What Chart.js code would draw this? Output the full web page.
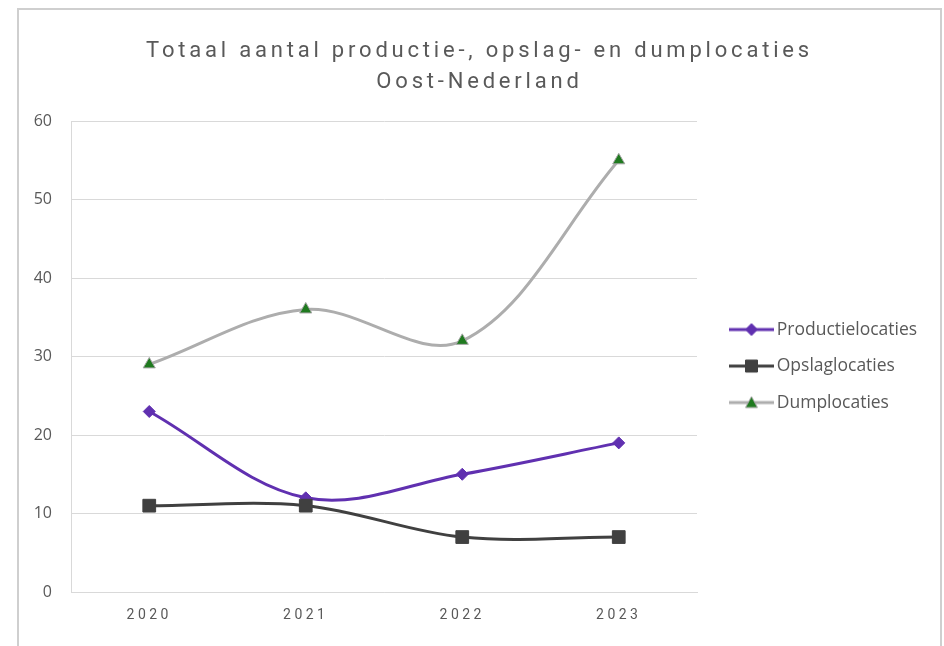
<!DOCTYPE html>
<html>
<head>
<meta charset="utf-8">
<script src="https://cdn.jsdelivr.net/npm/chart.js"></script>
<style>
  body { margin: 0; background: #fff; }
  #kader { position: absolute; left: 17px; top: 8px; width: 921px; height: 700px; border: 2px solid #cfcfcf; }
  #vak { position: relative; width: 921px; height: 636px; }
</style>
</head>
<body>
<div id="kader"><div id="vak"><canvas id="myChart"></canvas></div></div>
<script>
const jaren = ['2020', '2021', '2022', '2023'];
const productielocaties = [23, 12, 15, 19];
const opslaglocaties = [11, 11, 7, 7];
const dumplocaties = [29, 36, 32, 55];
const yTicks = [0, 10, 20, 30, 40, 50, 60];

const paars = '#6030b0';
const donker = '#404040';
const grijs = '#adadad';
const groen = '#1f7a1f';
const tekst = '#595959';

// small legend icons: line with the marker in the middle
function icoon(kleur, vorm, vulling, rand) {
  const c = document.createElement('canvas');
  c.width = 45;
  c.height = 16;
  const g = c.getContext('2d');
  g.strokeStyle = kleur;
  g.lineWidth = 3;
  g.beginPath();
  g.moveTo(0, 8);
  g.lineTo(45, 8);
  g.stroke();
  g.fillStyle = vulling;
  g.strokeStyle = rand;
  g.lineWidth = 1;
  g.beginPath();
  if (vorm === 'ruit') {
    g.moveTo(22.5, 2); g.lineTo(28.5, 8); g.lineTo(22.5, 14); g.lineTo(16.5, 8);
  } else if (vorm === 'vierkant') {
    g.rect(16.5, 2, 12, 12);
  } else {
    g.moveTo(22.5, 2); g.lineTo(28.5, 13); g.lineTo(16.5, 13);
  }
  g.closePath();
  g.fill();
  g.stroke();
  return c;
}
const iconen = [
  icoon(paars, 'ruit', paars, paars),
  icoon(donker, 'vierkant', donker, donker),
  icoon(grijs, 'driehoek', groen, '#a6a6a6')
];

function spatie(box, naam, sp) {
  if (!box || box['_sp_' + naam]) return;
  const orig = box[naam].bind(box);
  box[naam] = function (a) {
    const c = this.ctx;
    c.save();
    c.letterSpacing = sp;
    orig(a);
    c.restore();
  };
  box['_sp_' + naam] = true;
}

const opmaak = {
  id: 'opmaak',
  beforeLayout(chart) {
    spatie(chart.titleBlock, 'draw', '3.8px');
    spatie(chart.scales.x, 'drawLabels', '3.5px');
    const lg = chart.legend;
    if (lg && !lg._aangepast) {
      const fit = lg.fit.bind(lg);
      lg.fit = function () { fit(); this.width = 243; };
      const draw = lg.draw.bind(lg);
      lg.draw = function () {
        const l = this.left, t = this.top;
        this.left += 19;
        this.top += 19;
        draw();
        this.left = l;
        this.top = t;
      };
      lg._aangepast = true;
    }
  }
};

const ctx = document.getElementById('myChart');

new Chart(ctx, {
  type: 'line',
  data: {
    labels: jaren,
    datasets: [{
      label: 'Productielocaties',
      data: productielocaties,
      borderColor: paars,
      backgroundColor: paars,
      pointBackgroundColor: paars,
      pointBorderColor: paars,
      pointStyle: 'rectRot',
      pointRadius: 6,
      pointBorderWidth: 1,
      borderWidth: 3,
      tension: 0.35,
      order: 2
    }, {
      label: 'Opslaglocaties',
      data: opslaglocaties,
      borderColor: donker,
      backgroundColor: donker,
      pointBackgroundColor: donker,
      pointBorderColor: donker,
      pointStyle: 'rect',
      pointRadius: 9,
      pointBorderWidth: 1,
      borderWidth: 3,
      tension: 0.35,
      order: 1
    }, {
      label: 'Dumplocaties',
      data: dumplocaties,
      borderColor: grijs,
      backgroundColor: grijs,
      pointBackgroundColor: groen,
      pointBorderColor: '#a6a6a6',
      pointStyle: 'triangle',
      pointRadius: 7,
      pointBorderWidth: 1,
      borderWidth: 3,
      tension: 0.35,
      order: 0
    }]
  },
  options: {
    responsive: true,
    maintainAspectRatio: false,
    animation: false,
    layout: { padding: 0 },
    plugins: {
      title: {
        display: true,
        text: ['Totaal aantal productie-, opslag- en dumplocaties', 'Oost-Nederland'],
        color: tekst,
        font: { family: 'Roboto', size: 22, weight: 'normal', lineHeight: 1.4 },
        padding: { top: 26, bottom: 23.5 }
      },
      legend: {
        position: 'right',
        fullSize: false,
        labels: {
          usePointStyle: true,
          pointStyleWidth: 33,
          padding: 19,
          color: tekst,
          font: { family: 'Open Sans', size: 17.5 },
          generateLabels(chart) {
            const items = Chart.defaults.plugins.legend.labels.generateLabels(chart);
            items.sort((a, b) => a.datasetIndex - b.datasetIndex);
            items.forEach((it) => { it.pointStyle = iconen[it.datasetIndex]; });
            return items;
          }
        }
      },
      tooltip: { enabled: false }
    },
    scales: {
      x: {
        offset: true,
        grid: { display: false, drawTicks: false },
        border: { color: '#d9d9d9', width: 1 },
        ticks: { color: tekst, padding: 15, font: { family: 'Roboto', size: 14 } },
        afterFit(scale) { scale.height = 54; }
      },
      y: {
        min: 0,
        max: 60,
        afterBuildTicks(scale) { scale.ticks = yTicks.map(v => ({ value: v })); },
        grid: { color: '#d9d9d9', lineWidth: 1, drawTicks: false },
        border: { color: '#d9d9d9', width: 1 },
        ticks: { color: tekst, padding: 19, font: { family: 'Open Sans', size: 16 } },
        afterFit(scale) { scale.width = 52; }
      }
    }
  },
  plugins: [opmaak]
});
</script>
</body>
</html>
